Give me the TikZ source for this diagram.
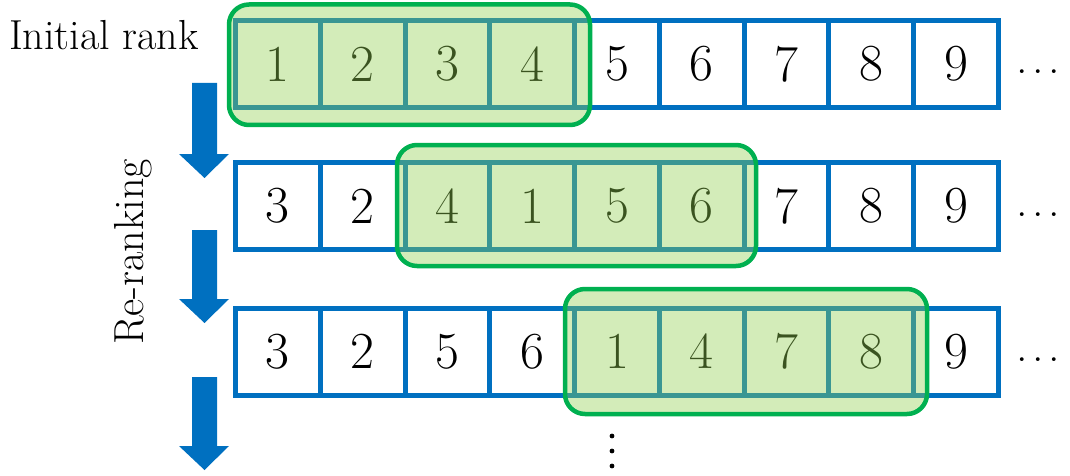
\documentclass[tikz,border=0pt]{standalone}
\usepackage{fontspec}
\definecolor{cellblue}{HTML}{0070C0}
\definecolor{boxgreen}{HTML}{00B050}
\definecolor{boxfill}{HTML}{92D050}
\begin{document}
\begin{tikzpicture}[x=1pt,y=-1pt,
  cell/.style={draw=cellblue, line width=5pt, fill=white, minimum width=84.8pt,
    minimum height=87pt, inner sep=0pt, font=\fontsize{52}{60}\selectfont, anchor=center},
  window/.style={draw=boxgreen, line width=4.5pt, fill=boxfill, fill opacity=0.4,
    draw opacity=1, rounded corners=20pt, inner sep=0pt},
  blockarrow/.style={fill=cellblue},
  label/.style={font=\fontsize{42}{48}\selectfont, inner sep=0pt},
  moredots/.style={font=\fontsize{46}{52}\selectfont, inner sep=0pt},
  vdot/.style={fill=black}]
\useasboundingbox (0,0) rectangle (1070,476);

% rows of cells
\foreach \r/\y/\lst in {1/64/{1,2,3,4,5,6,7,8,9},
                        2/206/{3,2,4,1,5,6,7,8,9},
                        3/351.5/{3,2,5,6,1,4,7,8,9}}{
  \foreach \d [count=\i] in \lst {
    \node[cell] (r\r-\i) at ({235.5+84.78*(\i-0.5)},\y) {\d};
  }
}

% trailing dots
\node[moredots, anchor=base west] (e1) at (1016.5,74) {.\kern4.2pt.\kern4.2pt.};
\node[moredots, anchor=base west] (e2) at (1016.5,216) {.\kern4.2pt.\kern4.2pt.};
\node[moredots, anchor=base west] (e3) at (1016.5,361.5) {.\kern4.2pt.\kern4.2pt.};

% sliding windows
\node[window, minimum width=361pt, minimum height=120.5pt] (w1) at (409.5,64.75) {};
\node[window, minimum width=359pt, minimum height=121pt] (w2) at (576.5,205.5) {};
\node[window, minimum width=362pt, minimum height=125pt] (w3) at (746,351.5) {};

% labels
\node[label, anchor=base west] (init) at (9,50) {Initial rank};
\node[label, rotate=90, anchor=base] (rerank) at (143,252) {Re-ranking};

% block arrows
\foreach \t/\b in {83/178, 230/323, 377/470}{
  \fill[blockarrow] (192,\t) -- (217,\t) -- (217,\b-24) -- (229,\b-24) -- (204.5,\b)
    -- (179,\b-24) -- (192,\b-24) -- cycle;
}

% vertical dots
\foreach \v in {436,451,466}{
  \fill[vdot] (612,\v) circle (2.4pt);
}
\end{tikzpicture}
\end{document}
